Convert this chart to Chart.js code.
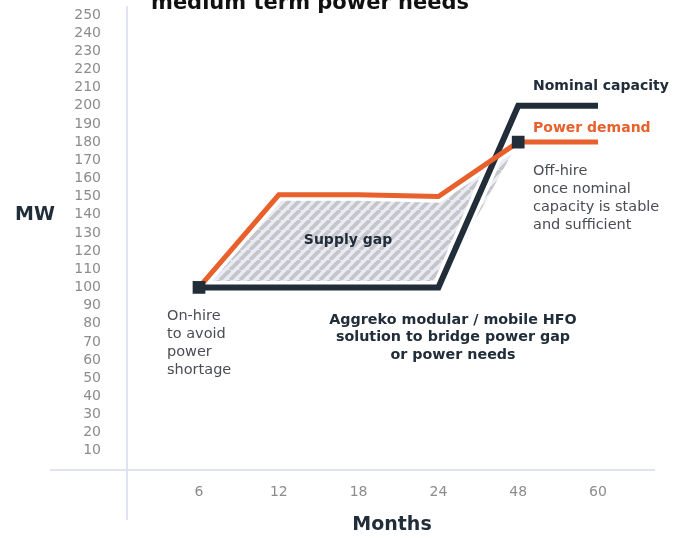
<!DOCTYPE html>
<html>
<head>
<meta charset="utf-8">
<script src="https://cdn.jsdelivr.net/npm/chart.js@4.4.1/dist/chart.umd.min.js"></script>
<style>
  html, body { margin: 0; padding: 0; background: #fff; }
  #wrap { width: 675px; height: 538px; }
</style>
</head>
<body>
<div id="wrap"><canvas id="gap_chart" width="675" height="538"></canvas></div>
<script>
var months = ['6', '12', '18', '24', '48', '60'];
var powerDemand = [100, 151, 151, 150, 180, 180];
var nominalCapacity = [100, 100, 100, 100, 200, 200];
var gapUpper = [100, 151, 151, 150, 180, null];
var gapLower = [100, 100, 100, 100, 180, null];
var markers = [100, null, null, null, 180, null];
var yTicks = [10, 250, 10]; // first shown, max, step

var orange = '#e8602c';
var navy = '#222d3a';
var font = 'DejaVu Sans';

function hatch() {
    var s = 10;
    var c = document.createElement('canvas');
    c.width = s; c.height = s;
    var g = c.getContext('2d');
    g.fillStyle = '#e9ecf6';
    g.fillRect(0, 0, s, s);
    g.strokeStyle = '#c6c6c9';
    g.lineWidth = 3.8;
    [-s, 0, s].forEach(function (k) {
        g.beginPath();
        g.moveTo(k, s);
        g.lineTo(k + s, 0);
        g.stroke();
    });
    return g.createPattern(c, 'repeat');
}

var decor = {
    id: 'decor',
    beforeDatasetsDraw: function (chart) {
        var ctx = chart.ctx;
        var y = chart.scales.y;
        ctx.save();
        ctx.strokeStyle = '#d8dcec';
        ctx.lineWidth = 1.5;
        ctx.beginPath();
        ctx.moveTo(127, 6);
        ctx.lineTo(127, 520);
        ctx.moveTo(50, y.getPixelForValue(0) + 1);
        ctx.lineTo(655, y.getPixelForValue(0) + 1);
        ctx.stroke();
        ctx.restore();
    },
    afterDatasetsDraw: function (chart) {
        var ctx = chart.ctx;
        ctx.save();
        ctx.textBaseline = 'middle';
        function lines(arr, x, y0, lh, align, color, weight, size) {
            ctx.font = weight + ' ' + size + 'px "' + font + '"';
            ctx.fillStyle = color;
            ctx.textAlign = align;
            arr.forEach(function (t, i) { ctx.fillText(t, x, y0 + i * lh); });
        }
        lines(['Nominal capacity'], 533, 86, 0, 'left', navy, 'bold', 14);
        lines(['Power demand'], 533, 128, 0, 'left', orange, 'bold', 14);
        lines(['Off-hire', 'once nominal', 'capacity is stable', 'and sufficient'], 533, 171, 18, 'left', '#4a4d52', 'normal', 14.5);
        lines(['On-hire', 'to avoid', 'power', 'shortage'], 167, 316, 18, 'left', '#4a4d52', 'normal', 14.5);
        lines(['Supply gap'], 348, 240, 0, 'center', navy, 'bold', 14);
        lines(['Aggreko modular / mobile HFO', 'solution to bridge power gap', 'or power needs'], 453, 320, 17.5, 'center', navy, 'bold', 14.3);
        lines(['MW'], 35, 215, 0, 'center', navy, 'bold', 19);
        lines(['Months'], 392, 525, 0, 'center', navy, 'bold', 19);
        ctx.textBaseline = 'alphabetic';
        lines(['medium term power needs'], 151, 9, 0, 'left', '#111', 'bold', 21);
        ctx.restore();
    }
};

var ctx_gap = document.getElementById('gap_chart');
var gapChart = new Chart(ctx_gap, {
    type: 'line',
    data: {
        labels: months,
        datasets: [{
            label: 'Markers',
            data: markers,
            showLine: false,
            pointStyle: 'rect',
            pointRadius: 9,
            backgroundColor: navy,
            borderColor: navy,
            borderWidth: 0,
            order: -1,
            clip: false
        }, {
            label: 'Power demand',
            data: powerDemand,
            borderColor: orange,
            borderWidth: 5,
            pointRadius: 0,
            fill: false,
            order: 0,
            clip: false
        }, {
            label: 'Nominal capacity',
            data: nominalCapacity,
            borderColor: navy,
            borderWidth: 6,
            pointRadius: 0,
            fill: false,
            order: 0,
            clip: false
        }, {
            label: 'demand edge',
            data: powerDemand,
            borderColor: '#fff',
            borderWidth: 12,
            pointRadius: 0,
            fill: false,
            order: 1,
            clip: false
        }, {
            label: 'capacity edge',
            data: nominalCapacity,
            borderColor: '#fff',
            borderWidth: 13,
            pointRadius: 0,
            fill: false,
            order: 1,
            clip: false
        }, {
            label: 'Supply gap',
            data: gapUpper,
            borderWidth: 0,
            pointRadius: 0,
            backgroundColor: hatch(),
            fill: { target: 6 },
            order: 2,
            clip: false
        }, {
            label: 'gap base',
            data: gapLower,
            borderWidth: 0,
            pointRadius: 0,
            fill: false,
            order: 2,
            clip: false
        }]
    },
    options: {
        responsive: false,
        animation: false,
        layout: { padding: { top: 15, right: 77, bottom: 0, left: 0 } },
        plugins: {
            legend: { display: false },
            tooltip: { enabled: false }
        },
        scales: {
            x: {
                offset: false,
                grid: { display: false },
                border: { display: false },
                ticks: { color: '#8c8c8c', padding: 7, font: { family: font, size: 14 } },
                afterFit: function (s) {
                    s.height = 69;
                    s.paddingLeft = 10;
                    s.paddingRight = 10;
                }
            },
            y: {
                min: 0,
                max: yTicks[1],
                grid: { display: false },
                border: { display: false },
                ticks: {
                    stepSize: yTicks[2],
                    autoSkip: false,
                    color: '#8c8c8c',
                    padding: 90,
                    font: { family: font, size: 14 },
                    callback: function (v) { return v < yTicks[0] ? '' : v; }
                },
                afterFit: function (s) {
                    s.width = 199;
                    s.paddingTop = 8;
                    s.paddingBottom = 8;
                }
            }
        }
    },
    plugins: [decor]
});
</script>
</body>
</html>
